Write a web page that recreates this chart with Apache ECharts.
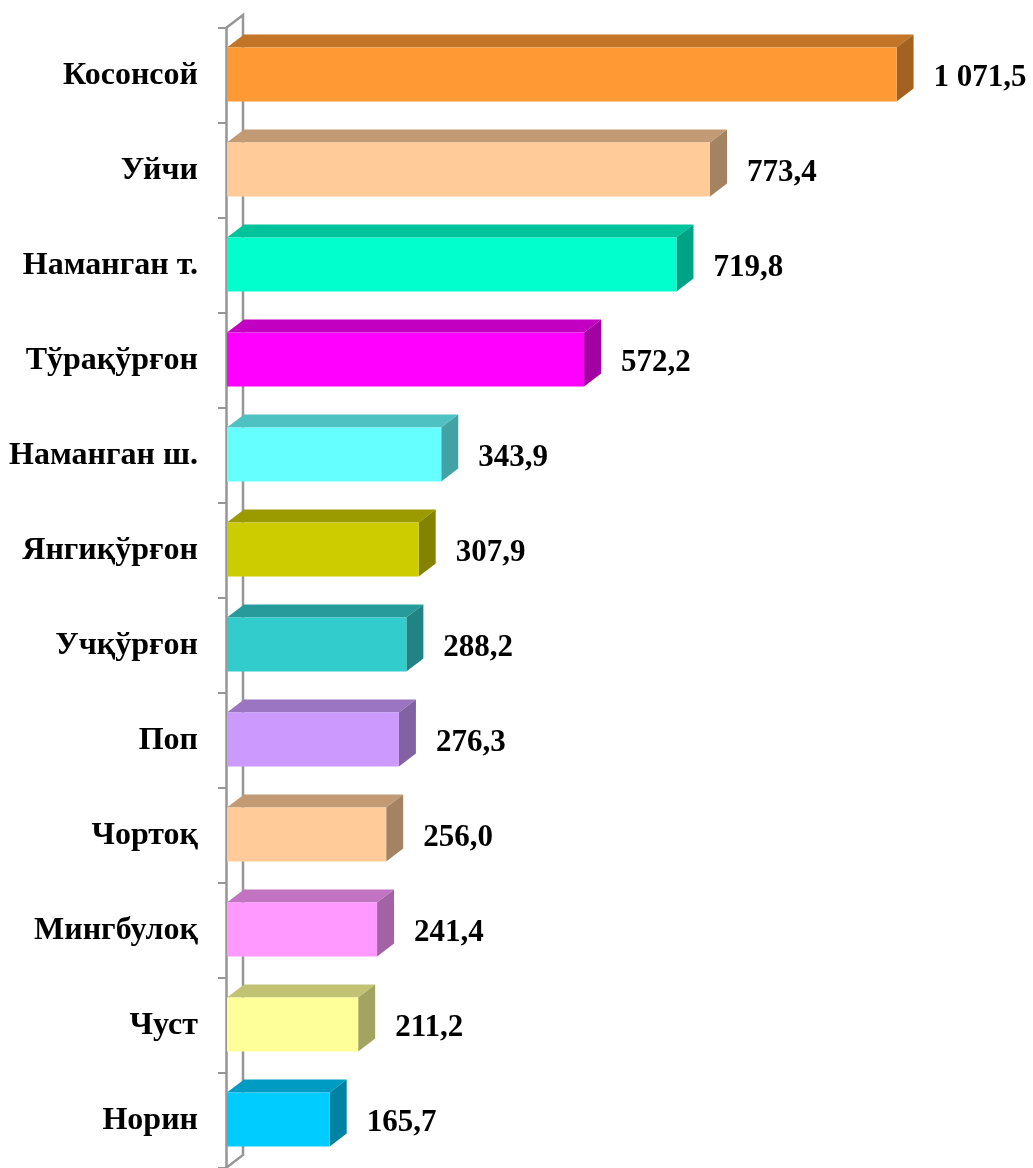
<!DOCTYPE html>
<html>
<head>
<meta charset="utf-8">
<title>Районлар</title>
<script src="https://cdn.jsdelivr.net/npm/echarts@6/dist/echarts.min.js"></script>
<style>
  html, body { margin: 0; padding: 0; background: #ffffff; }
  #chart { width: 1033px; height: 1168px; }
</style>
</head>
<body>
<div id="chart"></div>
<script>
// Districts, top to bottom
const categories = [
  'Косонсой', 'Уйчи', 'Наманган т.', 'Тўрақўрғон', 'Наманган ш.', 'Янгиқўрғон',
  'Учқўрғон', 'Поп', 'Чортоқ', 'Мингбулоқ', 'Чуст', 'Норин'
];
const values = [1071.5, 773.4, 719.8, 572.2, 343.9, 307.9, 288.2, 276.3, 256.0, 241.4, 211.2, 165.7];

// Front-face colour of each bar (top and side faces are shaded from it)
const barColors = [
  '#FF9933', '#FFCC99', '#00FFCC', '#FF00FF', '#66FFFF', '#CCCC00',
  '#33CCCC', '#CC99FF', '#FFCC99', '#FF99FF', '#FFFF99', '#00CCFF'
];

const DEPTH_X = 17;   // 3D depth offset to the right
const DEPTH_Y = 13;   // 3D depth offset upward
const FACE_H = 54;    // height of a bar's front face
const WALL = '#969696';
const FONT = '"Liberation Serif", "Times New Roman", serif';

function shade(hex, k) {
  const n = parseInt(hex.slice(1), 16);
  const r = Math.round(((n >> 16) & 255) * k);
  const g = Math.round(((n >> 8) & 255) * k);
  const b = Math.round((n & 255) * k);
  return 'rgb(' + r + ',' + g + ',' + b + ')';
}

function fmt(v) {
  const parts = v.toFixed(1).split('.');
  const int = parts[0].replace(/\B(?=(\d{3})+(?!\d))/g, ' ');
  return int + ',' + parts[1];
}

const chart = echarts.init(document.getElementById('chart'), null, { renderer: 'canvas' });

// Back line of the 3D side wall behind the bars
function renderWall(params, api) {
  const top = api.coord([0, 0]);
  const bottom = api.coord([0, categories.length - 1]);
  const band = api.size([0, 1])[1];
  const x = top[0];
  const yTop = top[1] - band / 2;
  const yBot = bottom[1] + band / 2;
  return {
    type: 'polyline',
    shape: {
      points: [
        [x, yTop],
        [x + DEPTH_X, yTop - DEPTH_Y],
        [x + DEPTH_X, yBot - DEPTH_Y],
        [x, yBot]
      ]
    },
    style: { stroke: WALL, lineWidth: 2.5, fill: null },
    silent: true
  };
}

// One 3D box per district: front face, top face, side face and value label
function renderBox(params, api) {
  const idx = params.dataIndex;
  const v = api.value(0);
  const start = api.coord([0, idx]);
  const end = api.coord([v, idx]);
  const x0 = start[0] + 1;
  const x1 = end[0];
  const yc = start[1] - 1;
  const yt = yc - FACE_H / 2;
  const yb = yc + FACE_H / 2;
  const base = barColors[idx];
  return {
    type: 'group',
    children: [
      {
        type: 'polygon',
        shape: { points: [[x0, yt], [x0 + DEPTH_X, yt - DEPTH_Y], [x1 + DEPTH_X, yt - DEPTH_Y], [x1, yt]] },
        style: { fill: shade(base, 0.76) }
      },
      {
        type: 'polygon',
        shape: { points: [[x1, yt], [x1 + DEPTH_X, yt - DEPTH_Y], [x1 + DEPTH_X, yb - DEPTH_Y], [x1, yb]] },
        style: { fill: shade(base, 0.64) }
      },
      {
        type: 'rect',
        shape: { x: x0, y: yt, width: x1 - x0, height: FACE_H },
        style: { fill: base }
      },
      {
        type: 'text',
        style: {
          x: x1 + DEPTH_X + 20,
          y: yc + 3,
          text: fmt(v),
          font: 'bold 31px ' + FONT,
          fill: '#000000',
          verticalAlign: 'middle',
          align: 'left'
        }
      }
    ]
  };
}

chart.setOption({
  animation: false,
  backgroundColor: '#ffffff',
  grid: { left: 226, top: 28, width: 751, height: 1143 },
  xAxis: {
    type: 'value',
    min: 0,
    max: 1200,
    show: false
  },
  yAxis: {
    type: 'category',
    data: categories,
    inverse: true,
    axisLine: { show: true, lineStyle: { color: WALL, width: 2.5 } },
    axisTick: { show: true, length: 8, lineStyle: { color: WALL, width: 2 } },
    axisLabel: {
      margin: 28,
      padding: [4, 0, 0, 0],
      color: '#000000',
      fontFamily: FONT,
      fontWeight: 'bold',
      fontSize: 32
    },
    splitLine: { show: false }
  },
  series: [
    {
      type: 'custom',
      renderItem: renderWall,
      data: [[0]],
      z: 1,
      silent: true
    },
    {
      type: 'custom',
      renderItem: renderBox,
      encode: { x: 0, y: 1 },
      data: values.map((v, i) => [v, i]),
      z: 2
    }
  ]
});
</script>
</body>
</html>
